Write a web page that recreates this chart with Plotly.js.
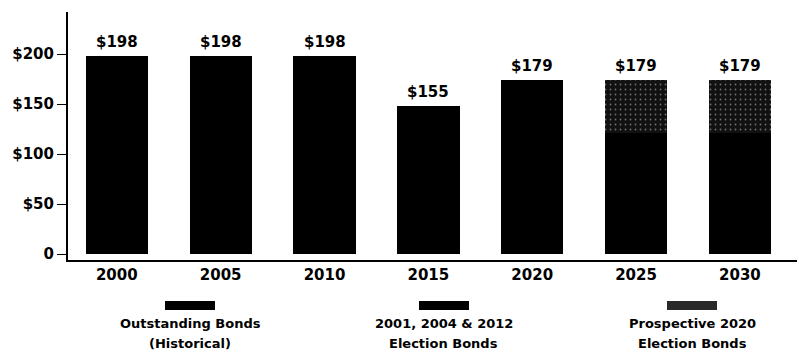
<!DOCTYPE html>
<html>
<head>
<meta charset="utf-8">
<script src="https://cdn.plot.ly/plotly-3.0.1.min.js"></script>
<style>html,body{margin:0;padding:0;background:#fff;}#chart{width:799px;height:359px;}</style>
</head>
<body>
<div id="chart"></div>
<script>
const years = ['2000', '2005', '2010', '2015', '2020', '2025', '2030'];
const outstandingHistorical = [198, 198, 198, 148, 0, 0, 0];
const electionBonds = [0, 0, 0, 0, 174, 121, 121];
const prospectiveBonds = [0, 0, 0, 0, 0, 53, 53];
const totalLabels = ['$198', '$198', '$198', '$155', '$179', '$179', '$179'];
const seriesNames = ['Outstanding Bonds<br>(Historical)', '2001, 2004 &amp; 2012<br>Election Bonds', 'Prospective 2020<br>Election Bonds'];
const yTickVals = [0, 50, 100, 150, 200];
const yTickText = ['0', '$50', '$100', '$150', '$200'];

const FONT = 'DejaVu Sans, sans-serif';
const PATTERN = {shape: '.', fgcolor: '#d0d0d0', bgcolor: '#111', size: 5, solidity: 0.1, fillmode: 'overlay'};

const traces = [
  {type: 'bar', x: years, y: outstandingHistorical, name: seriesNames[0], marker: {color: '#000'}, width: 0.6, hoverinfo: 'skip'},
  {type: 'bar', x: years, y: electionBonds, name: seriesNames[1], marker: {color: '#000'}, width: 0.6, hoverinfo: 'skip'},
  {type: 'bar', x: years, y: prospectiveBonds, name: seriesNames[2], marker: {color: '#111', pattern: PATTERN}, width: 0.6, hoverinfo: 'skip'}
];

const totals = years.map((_, i) => outstandingHistorical[i] + electionBonds[i] + prospectiveBonds[i]);
const annotations = years.map((yr, i) => ({
  x: i, y: totals[i], xref: 'x', yref: 'y', text: totalLabels[i], showarrow: false,
  yanchor: 'bottom', yshift: 3, font: {family: FONT, size: 15, color: '#000', weight: 'bold'}
}));

// manual legend (swatch above centered two-line label)
const plotL = 68, plotW = 729, plotB = 260, plotH = 248;
const px = v => (v - plotL) / plotW;
const py = v => (plotB - v) / plotH;
const legendCenters = [190, 444, 692];
const swatchColors = ['#000', '#000', '#2a2a2a'];
const shapes = legendCenters.map((c, i) => ({
  type: 'rect', xref: 'paper', yref: 'paper', x0: px(c - 25), x1: px(c + 25), y0: py(310), y1: py(301),
  fillcolor: swatchColors[i], line: {width: 0}
}));
legendCenters.forEach((c, i) => {
  seriesNames[i].split('<br>').forEach((line, j) => annotations.push({
    x: px(c), y: py(323 + 20 * j), xref: 'paper', yref: 'paper', text: line, showarrow: false,
    xanchor: 'center', yanchor: 'middle', align: 'center',
    font: {family: FONT, size: 13, color: '#000', weight: 'bold'}
  }));
});

const layout = {
  width: 799, height: 359,
  margin: {l: 68, r: 2, t: 12, b: 99},
  paper_bgcolor: '#fff', plot_bgcolor: '#fff',
  barmode: 'stack', showlegend: false,
  font: {family: FONT, color: '#000'},
  xaxis: {
    type: 'category', range: [-0.47, 6.55], showgrid: false, zeroline: false,
    showline: true, linecolor: '#000', linewidth: 2, ticks: '',
    tickfont: {family: FONT, size: 15, color: '#000', weight: 'bold'}, fixedrange: true
  },
  yaxis: {
    range: [-6, 242], showgrid: false, zeroline: false, showline: true, linecolor: '#000', linewidth: 2,
    ticks: 'outside', ticklen: 9, tickwidth: 1, tickcolor: '#000',
    tickvals: yTickVals, ticktext: yTickText,
    tickfont: {family: FONT, size: 15, color: '#000', weight: 'bold'}, fixedrange: true
  },
  annotations: annotations,
  shapes: shapes
};

Plotly.newPlot('chart', traces, layout, {displayModeBar: false, staticPlot: true});
</script>
</body>
</html>
